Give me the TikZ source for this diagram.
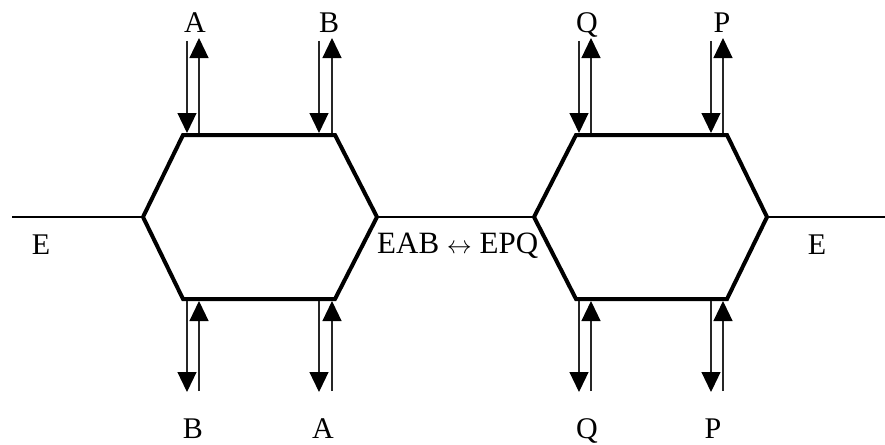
\documentclass[tikz,border=0pt]{standalone}
\usepackage{fontspec}
\setmainfont{Liberation Serif}
\usetikzlibrary{arrows.meta}
\tikzset{
    hexline/.style={
        line width=4pt,
        line join=miter
    },
    wire/.style={
        line width=2pt
    },
    flow/.style={
        -{Triangle[length=20pt,width=19pt,color=black]},
        line width=1.2pt,
        draw=black!85
    },
    lbl/.style={
        font=\fontsize{30}{36}\selectfont,
        inner sep=0pt,
        anchor=base
    }
}
\begin{document}
\begin{tikzpicture}[x=1pt,y=-1pt]
        \useasboundingbox (0,0) rectangle (885,444);

        % left exchanger
        \coordinate (l-w)  at (143,217);
        \coordinate (l-nw) at (183,135);
        \coordinate (l-ne) at (335,135);
        \coordinate (l-e)  at (377,217);
        \coordinate (l-se) at (335,299);
        \coordinate (l-sw) at (183,299);
        \draw[hexline] (l-w) -- (l-nw) -- (l-ne) -- (l-e) -- (l-se) -- (l-sw) -- cycle;

        % right exchanger
        \coordinate (r-w)  at (534,217);
        \coordinate (r-nw) at (576,135);
        \coordinate (r-ne) at (727,135);
        \coordinate (r-e)  at (767,217);
        \coordinate (r-se) at (727,299);
        \coordinate (r-sw) at (576,299);
        \draw[hexline] (r-w) -- (r-nw) -- (r-ne) -- (r-e) -- (r-se) -- (r-sw) -- cycle;

        \coordinate (feed) at (12,217);
        \coordinate (exit) at (885,217);
        \draw[wire] (feed) -- (l-w);
        \draw[wire] (l-e) -- (r-w);
        \draw[wire] (r-e) -- (exit);

        \node[lbl] (e-in) at (41,254) {E};
        \node[lbl] (e-out) at (817,254) {E};
        \node[lbl, font=\fontsize{31}{36}\selectfont, anchor=base west] (swap) at (377,253) {EAB $\leftrightarrow$ EPQ};

        % ports on top
        \foreach \name/\xd/\xu/\xl in {A/187/199/195, B/319/332/329, Q/579/591/587, P/711/723/722} {
            \node[lbl] (top-\name) at (\xl,32.5) {\name};
            \coordinate (top-\name-in) at (\xd,41);
            \coordinate (top-\name-to) at (\xd,133);
            \coordinate (top-\name-from) at (\xu,133);
            \coordinate (top-\name-out) at (\xu,38);
            \draw[flow] (top-\name-in) -- (top-\name-to);
            \draw[flow] (top-\name-from) -- (top-\name-out);
        }

        % ports below
        \foreach \name/\xd/\xu/\xl in {B/187/199/193, A/319/332/323, Q/579/591/587, P/711/723/713} {
            \node[lbl] (bot-\name) at (\xl,438) {\name};
            \coordinate (bot-\name-from) at (\xd,301);
            \coordinate (bot-\name-out) at (\xd,392);
            \coordinate (bot-\name-in) at (\xu,391);
            \coordinate (bot-\name-to) at (\xu,301);
            \draw[flow] (bot-\name-from) -- (bot-\name-out);
            \draw[flow] (bot-\name-in) -- (bot-\name-to);
        }
    \end{tikzpicture}
\end{document}
